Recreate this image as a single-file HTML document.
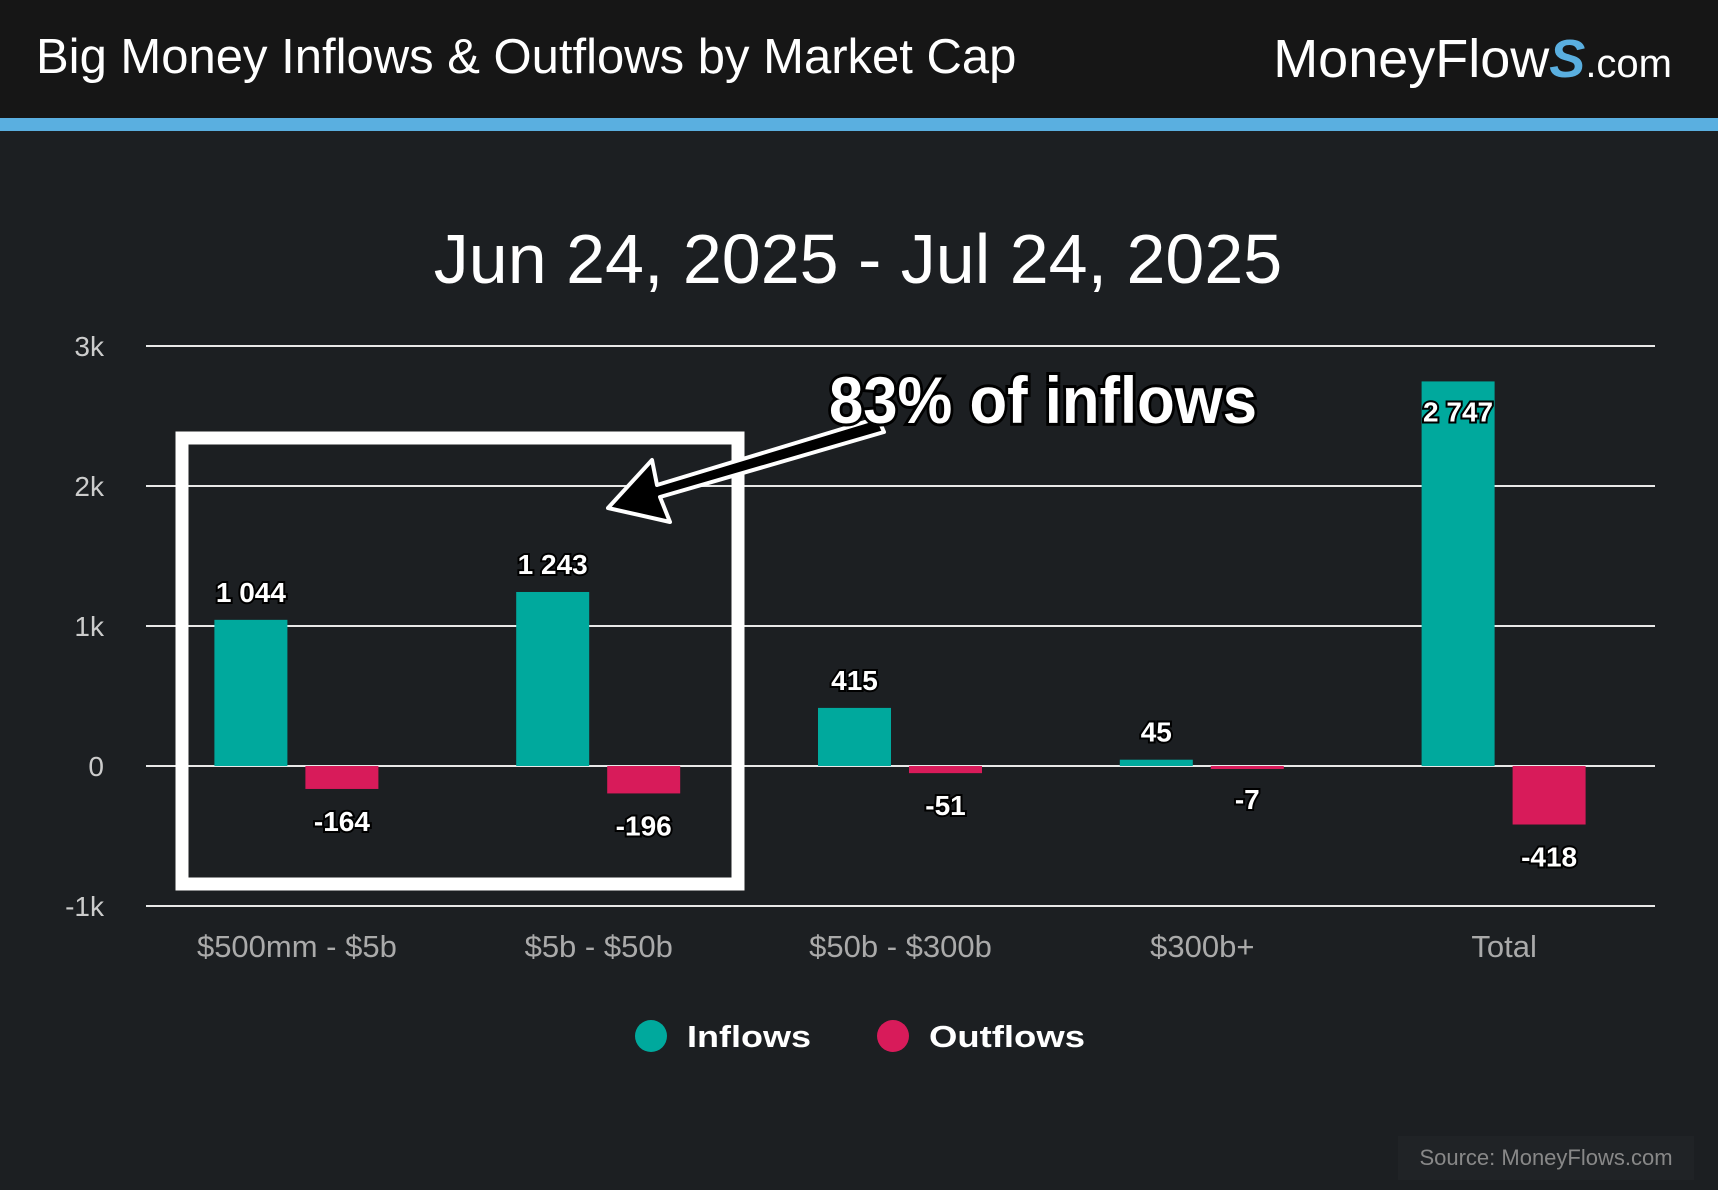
<!DOCTYPE html>
<html><head><meta charset="utf-8"><style>
html,body{margin:0;padding:0;width:1718px;height:1190px;overflow:hidden;background:#1c1f22;font-family:"Liberation Sans",sans-serif}
#hdr{position:absolute;left:0;top:0;width:1718px;height:118px;background:#161616}
#stripe{position:absolute;left:0;top:118px;width:1718px;height:13px;background:#5aafe0}
#title{position:absolute;left:36px;top:29px;color:#fff;font-size:49px}
#logo{position:absolute;right:46px;top:28px;color:#fff;font-size:54px}
#logo small{font-size:40px}
#src{position:absolute;left:1398px;top:1136px;width:296px;height:44px;background:#202326;color:#888;font-size:22px;line-height:44px;text-align:center}
</style></head><body>
<div id="hdr"></div>
<div id="stripe"></div>
<div id="title">Big Money Inflows &amp; Outflows by Market Cap</div>
<div id="logo">MoneyFlow<span style="color:#5aafe0;font-style:italic;font-weight:bold">S</span><small>.com</small></div>
<div id="src">Source: MoneyFlows.com</div>
<svg id="chart" width="1718" height="1190" style="position:absolute;left:0;top:0"></svg>
<script>
const categories=["$500mm - $5b","$5b - $50b","$50b - $300b","$300b+","Total"];
const inflows=[1044,1243,415,45,2747];
const outflows=[-164,-196,-51,-7,-418];
const ticks=[3000,2000,1000,0,-1000];
const tickLabels=["3k","2k","1k","0","-1k"];
const NS="http://www.w3.org/2000/svg";
const svg=document.getElementById('chart');
const x0=146,x1=1655,y0=766,pxPerK=140;
const y=v=>y0-v/1000*pxPerK;
const step=(x1-x0)/categories.length;
const cx=i=>x0+step*(i+0.5);
function mk(t,a,p){const e=document.createElementNS(NS,t);for(const k in a)e.setAttribute(k,a[k]);(p||svg).appendChild(e);return e;}
let sub=mk('text',{x:858,y:283,'text-anchor':'middle',fill:'#fff','font-size':70});
sub.textContent='Jun 24, 2025 - Jul 24, 2025';


ticks.forEach((t,i)=>{
 let l=mk('line',{x1:x0,x2:x1,y1:y(t),y2:y(t),stroke:'#e8e8e8','stroke-width':2});
 
 
 let tx=mk('text',{x:104,y:y(t)+10,'text-anchor':'end',fill:'#ccc','font-size':28});
 tx.textContent=tickLabels[i];
 
 
});
const bw=73;
categories.forEach((c,i)=>{
 const xi=cx(i)-46, xo=cx(i)+45;
 const vi=inflows[i], vo=outflows[i];
 let b=mk('rect',{x:xi-bw/2,y:y(vi),width:bw,height:Math.max(y(0)-y(vi),3),fill:'#00a99d'});
 
 
 let o=mk('rect',{x:xo-bw/2,y:y(0),width:bw,height:Math.max(y(vo)-y(0),3),fill:'#d81b5a'});
 
 
 const inside=i===categories.length-1;
 let li=mk('text',{x:xi,y:inside?y(vi)+40:y(vi)-18,'text-anchor':'middle',fill:'#fff',stroke:'#000','stroke-width':4,'paint-order':'stroke','font-size':28,'font-weight':'bold'});
 li.textContent=vi.toLocaleString('fr-FR').replace(/\u202f|\u00a0/g,' ');
 
 
 let lo=mk('text',{x:xo,y:y(vo)+42,'text-anchor':'middle',fill:'#fff',stroke:'#000','stroke-width':4,'paint-order':'stroke','font-size':28,'font-weight':'bold'});
 lo.textContent=vo;
 
 
 let cl=mk('text',{x:cx(i),y:957,'text-anchor':'middle',fill:'#aaa','font-size':31});
 cl.textContent=c;
 
 
});
let box=mk('rect',{x:182,y:438,width:556,height:446,fill:'none',stroke:'#fff','stroke-width':13});


let ar=mk('path',{d:'M878,418 L884,432 L660,497 L670,522 L608,508 L652,460 L657,485 Z',fill:'#000',stroke:'#fff','stroke-width':4,'stroke-linejoin':'round'});


let an=mk('text',{x:829,y:423,fill:'#fff',stroke:'#000','stroke-width':6,'paint-order':'stroke','font-size':66,'font-weight':'bold',textLength:428,lengthAdjust:'spacingAndGlyphs'});
an.textContent='83% of inflows';


[['Inflows','#00a99d',651,687,124],['Outflows','#d81b5a',893,929,156]].forEach(l=>{
 let d=mk('circle',{cx:l[2],cy:1036,r:16,fill:l[1]});
 
 
 let t=mk('text',{x:l[3],y:1047,fill:'#fff','font-size':31,'font-weight':'bold',textLength:l[4],lengthAdjust:'spacingAndGlyphs'});
 t.textContent=l[0];
 
 
});
</script>
</body></html>
